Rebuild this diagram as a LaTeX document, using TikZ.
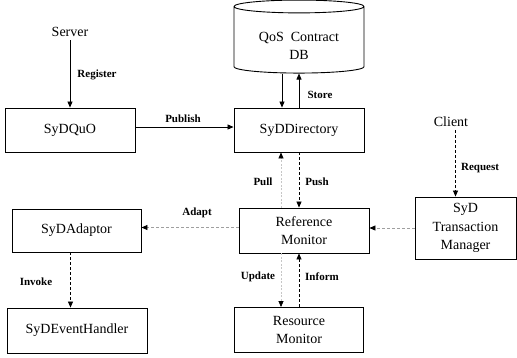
\documentclass[tikz,border=0pt]{standalone}
\usepackage{fontspec}
\setmainfont{Liberation Serif}
\usetikzlibrary{shapes.geometric,arrows.meta}
\begin{document}
\begin{tikzpicture}[x=1pt,y=-1pt]
    \tikzstyle{every node}=[font=\fontsize{14}{18.5}\selectfont];
    \tikzstyle{box}=[draw,line width=0.9pt,inner sep=0pt,align=center];
    \tikzstyle{lbl}=[font=\fontsize{11}{13}\selectfont\bfseries,inner sep=0pt];
    \tikzstyle{solidarr}=[line width=0.8pt,-{Triangle[length=6pt,width=5pt]}];
    \tikzstyle{darkdash}=[line width=0.7pt,dash pattern=on 3pt off 2pt,-{Triangle[length=6pt,width=5pt,black]}];
    \tikzstyle{greydash}=[gray!75,line width=0.7pt,dash pattern=on 3pt off 2pt,-{Triangle[length=6pt,width=5pt,black]}];
    \tikzstyle{lightdash}=[gray!45,line width=0.7pt,dash pattern=on 2pt off 1.5pt,-{Triangle[length=6pt,width=5pt,black]}];
    \useasboundingbox (0,0) rectangle (517,357);
    %\node (name) at (x,y) {text}; y counts down from the top
    \node (server) at (70,32) {Server};
    \node (client) at (451,122) {Client};
    \node[box,minimum width=130pt,minimum height=44pt] (quo) at (70,130) {SyDQuO};
    \node[draw,line width=0.9pt,cylinder,shape border rotate=90,aspect=0.16,
      minimum width=130pt,minimum height=73pt,inner sep=0pt,align=center] (db) at (299,40) {\rule{0pt}{21pt}QoS\ \ Contract\\DB};
    \node[box,minimum width=130pt,minimum height=44pt] (dir) at (299,130) {SyDDirectory};
    \node[box,minimum width=130pt,minimum height=45pt] (rm) at (304,230.5) {Reference\\Monitor};
    \node[box,minimum width=101pt,minimum height=62pt] (tm) at (465.5,228) {SyD\\Transaction\\Manager};
    \node[box,minimum width=129pt,minimum height=43pt] (ad) at (76.5,230.5) {SyDAdaptor};
    \node[box,minimum width=140pt,minimum height=45pt] (eh) at (77,330.5) {SyDEventHandler};
    \node[box,minimum width=129pt,minimum height=45pt] (res) at (299,330) {Resource\\Monitor};
    % labels
    \node[lbl] (register) at (97,75) {Register};
    \node[lbl] (publish) at (183,119) {Publish};
    \node[lbl] (store) at (320,95) {Store};
    \node[lbl] (pull) at (263,182) {Pull};
    \node[lbl] (push) at (317,182) {Push};
    \node[lbl] (request) at (480,168) {Request};
    \node[lbl] (adapt) at (197,213) {Adapt};
    \node[lbl] (invoke) at (36,282) {Invoke};
    \node[lbl] (update) at (258,277) {Update};
    \node[lbl] (inform) at (322,277) {Inform};
    \draw[solidarr] (server) -- (quo);
    \draw[solidarr] ([yshift=3pt]quo.east) -- ([yshift=3pt]dir.west);
    \draw[solidarr] ([xshift=-17pt]db.south) -- ([xshift=-17pt]dir.north);
    \draw[solidarr] (dir.north) -- (db.south);
    \draw[lightdash] ([xshift=-18pt]dir.south |- rm.north) -- ([xshift=-18pt]dir.south);
    \draw[darkdash] (dir.south) -- (dir.south |- rm.north);
    \draw[darkdash] ([xshift=-10pt]tm.north |- client.south) -- ([xshift=-10pt]tm.north);
    \draw[greydash] (tm.west) -- (tm.west -| rm.east);
    \draw[greydash] ([yshift=3pt]rm.west) -- ([yshift=3pt]rm.west -| ad.east);
    \draw[darkdash] ([xshift=-6pt]ad.south) -- ([xshift=-6pt]ad.south |- eh.north);
    \draw[lightdash] ([xshift=-18pt]res.north |- rm.south) -- ([xshift=-18pt]res.north);
    \draw[darkdash] (res.north) -- (res.north |- rm.south);
\end{tikzpicture}
\end{document}
